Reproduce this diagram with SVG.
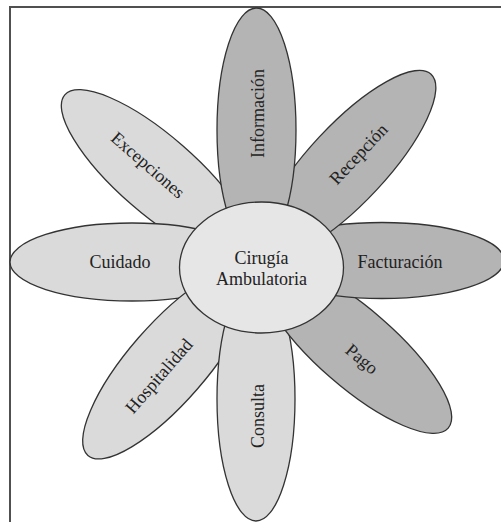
<svg xmlns="http://www.w3.org/2000/svg" width="501" height="522" viewBox="0 0 501 522">
<style>
.petal{stroke:#333;stroke-width:1.3}
.dark{fill:#b4b4b4}
.light{fill:#dadada}
.center{fill:#e6e6e6;stroke:#333;stroke-width:1.3}
text{font-family:"Liberation Serif","Times New Roman",serif;font-size:18px;fill:#222;text-anchor:middle}
</style>
<rect width="501" height="522" fill="#fff"/>
<path d="M10,522 V7 H501" fill="none" stroke="#505050" stroke-width="2"/>
<g id="excepciones">
<ellipse class="petal light" cx="388.5" cy="261.5" rx="122" ry="39" transform="rotate(221 256.5 261.5)"/>
<text transform="translate(148 165) rotate(41)" dy="6">Excepciones</text>
</g>
<g id="cuidado">
<ellipse class="petal light" cx="132" cy="262" rx="122" ry="39"/>
<text x="120" y="268">Cuidado</text>
</g>
<g id="hospitalidad">
<ellipse class="petal light" cx="391.5" cy="261.5" rx="122" ry="39" transform="rotate(131 256.5 261.5)"/>
<text transform="translate(159 376) rotate(-49)" dy="6">Hospitalidad</text>
</g>
<g id="consulta">
<ellipse class="petal light" cx="256" cy="399" rx="39" ry="122"/>
<text transform="translate(258 416) rotate(-90)" dy="6">Consulta</text>
</g>
<g id="pago">
<ellipse class="petal dark" cx="388.5" cy="261.5" rx="122" ry="39" transform="rotate(41 256.5 261.5)"/>
<text transform="translate(362 359) rotate(40)" dy="6">Pago</text>
</g>
<g id="facturacion">
<ellipse class="petal dark" cx="382" cy="260.5" rx="122" ry="38"/>
<text x="400" y="268">Facturación</text>
</g>
<g id="recepcion">
<ellipse class="petal dark" cx="390.5" cy="261.5" rx="122" ry="39" transform="rotate(313 256.5 261.5)"/>
<text transform="translate(358.5 154) rotate(-47)" dy="6">Recepción</text>
</g>
<g id="informacion">
<ellipse class="petal dark" cx="256.5" cy="130" rx="39.5" ry="122"/>
<text transform="translate(258 113.5) rotate(-90)" dy="6">Información</text>
</g>
<g id="cirugia-ambulatoria">
<ellipse class="center" cx="261.5" cy="267.5" rx="82" ry="65.5"/>
<text x="261.5" y="264">Cirugía</text>
<text x="261.5" y="285">Ambulatoria</text>
</g>
</svg>
